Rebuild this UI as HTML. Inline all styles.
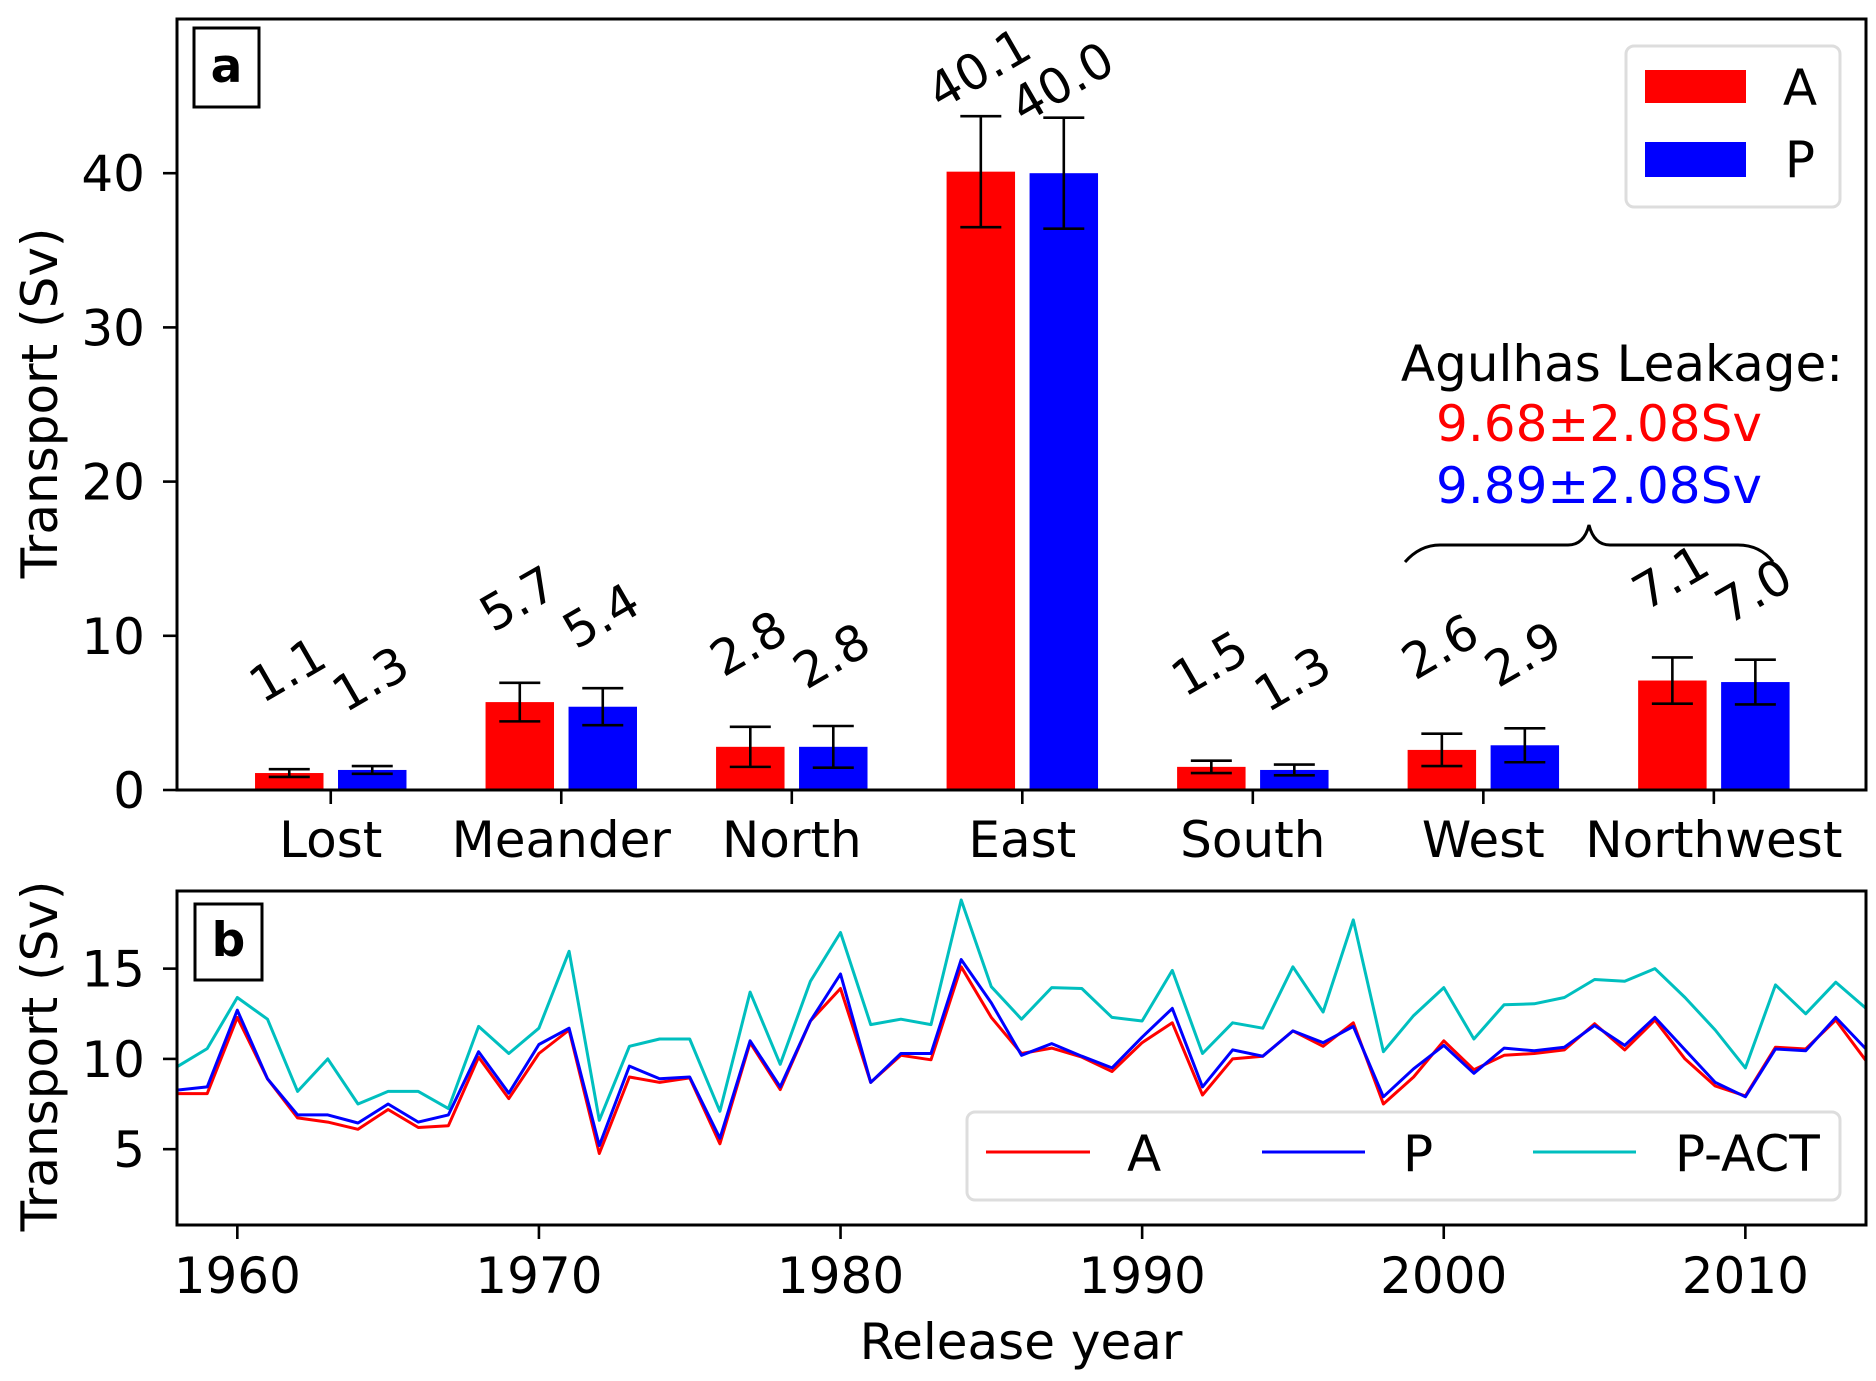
<!DOCTYPE html>
<html><head><meta charset="utf-8"><style>
html,body{margin:0;padding:0;background:#fff}
svg{display:block}
text{font-family:"DejaVu Sans","Liberation Sans",sans-serif}
</style></head><body>
<svg id="fig" width="1876" height="1381" viewBox="0 0 1876 1381" xmlns="http://www.w3.org/2000/svg"></svg>
<script>
// ---------- Panel a data ----------
const categories = ["Lost","Meander","North","East","South","West","Northwest"];
const valuesA = [1.1,5.7,2.8,40.1,1.5,2.6,7.1];
const valuesP = [1.3,5.4,2.8,40.0,1.3,2.9,7.0];
const errA = [0.25,1.25,1.3,3.6,0.4,1.05,1.5];
const errP = [0.25,1.2,1.35,3.6,0.35,1.1,1.45];
const labelsA = ["1.1","5.7","2.8","40.1","1.5","2.6","7.1"];
const labelsP = ["1.3","5.4","2.8","40.0","1.3","2.9","7.0"];
const yTicksA = [0,10,20,30,40];
// ---------- Panel b data ----------
const years = [];
for (let y = 1958; y <= 2014; y++) years.push(y);
const seriesA = [8.08,8.08,12.3,8.9,6.73,6.5,6.1,7.2,6.2,6.3,10.1,7.8,10.3,11.6,4.76,9.0,8.7,8.95,5.3,10.9,8.3,12.1,13.9,8.7,10.2,9.95,15.1,12.3,10.3,
10.6,10.1,9.3,10.9,12.0,8.0,10.0,10.15,11.55,10.7,12.0,7.5,9.0,11.0,9.4,10.2,10.3,10.5,11.95,10.5,12.15,10.0,8.5,7.95,10.65,10.55,12.15,9.9];
const seriesP = [8.27,8.45,12.7,8.9,6.9,6.9,6.45,7.5,6.5,6.9,10.4,8.1,10.8,11.7,5.2,9.6,8.9,9.0,5.6,11.0,8.45,12.1,14.7,8.7,10.3,10.3,15.5,13.1,10.2,
10.85,10.15,9.5,11.2,12.8,8.45,10.5,10.15,11.55,10.9,11.8,7.9,9.45,10.75,9.2,10.6,10.45,10.65,11.85,10.75,12.3,10.5,8.7,7.9,10.55,10.45,12.3,10.55];
const seriesACT = [9.56,10.57,13.4,12.2,8.2,10.0,7.5,8.2,8.2,7.25,11.8,10.3,11.7,15.96,6.6,10.7,11.1,11.1,7.1,13.7,9.7,14.3,17.0,11.9,12.2,11.9,18.8,14.0,12.2,
13.95,13.9,12.3,12.1,14.9,10.3,12.0,11.7,15.1,12.6,17.7,10.4,12.4,13.95,11.1,13.0,13.05,13.4,14.4,14.3,15.0,13.4,11.6,9.5,14.1,12.5,14.25,12.8];
const yTicksB = [5,10,15];
const xTicksB = [1960,1970,1980,1990,2000,2010];

const NS = "http://www.w3.org/2000/svg";
const svg = document.getElementById("fig");
function el(tag, attrs, parent, txt) {
  const e = document.createElementNS(NS, tag);
  for (const k in attrs) e.setAttribute(k, attrs[k]);
  if (txt !== undefined) e.textContent = txt;
  (parent || svg).appendChild(e);
  return e;
}

// ---------- Panel a ----------
const A = {l:177, r:1866, t:19, b:790, x0:-0.667, x1:6.66, y0:0, y1:50};
const xa = v => A.l + (v - A.x0) / (A.x1 - A.x0) * (A.r - A.l);
const ya = v => A.b - (v - A.y0) / (A.y1 - A.y0) * (A.b - A.t);
const gA = el("g", {});


const bw = 0.297, off = 0.18;
categories.forEach((c, i) => {
  [[valuesA, errA, labelsA, "#ff0000", -off, 6.5, "a"], [valuesP, errP, labelsP, "#0000ff", off, 5.7, "p"]].forEach(s => {
    const [vals, errs, labs, col, o, lo, key] = s;
    const cx = xa(i + o);
    const x1 = xa(i + o - bw / 2), x2 = xa(i + o + bw / 2);
    const r = el("rect", {x: x1, y: ya(vals[i]), width: x2 - x1, height: ya(0) - ya(vals[i]), fill: col}, gA);
    
    
    const eg = el("g", {stroke: "#000", "stroke-width": 2.6}, gA);
    
    
    const lo_ = ya(vals[i] - errs[i]), hi_ = ya(vals[i] + errs[i]);
    el("line", {x1: cx, x2: cx, y1: lo_, y2: hi_}, eg);
    el("line", {x1: cx - 20.5, x2: cx + 20.5, y1: lo_, y2: lo_}, eg);
    el("line", {x1: cx - 20.5, x2: cx + 20.5, y1: hi_, y2: hi_}, eg);
    const ly = ya(vals[i] + lo);
    const t = el("text", {x: cx, y: ly, "font-size": 49, "text-anchor": "middle", "dominant-baseline": "middle", transform: `rotate(-30 ${cx} ${ly})`}, gA, labs[i]);
    
    
  });
  const tx = xa(i);
  el("line", {x1: tx, x2: tx, y1: A.b, y2: A.b + 14, stroke: "#000", "stroke-width": 2.6}, gA);
  const tl = el("text", {x: tx, y: 857, "font-size": 50, "text-anchor": "middle"}, gA, c);
  
  
});
yTicksA.forEach(v => {
  el("line", {x1: A.l - 14, x2: A.l, y1: ya(v), y2: ya(v), stroke: "#000", "stroke-width": 2.6}, gA);
  const t = el("text", {x: 145, y: ya(v) + 18, "font-size": 50, "text-anchor": "end"}, gA, String(v));
  
  
});
el("rect", {x: A.l, y: A.t, width: A.r - A.l, height: A.b - A.t, fill: "none", stroke: "#000", "stroke-width": 3}, gA);
</script>
<script>
(function(){
  const svg = document.getElementById("fig");
  svg.insertAdjacentHTML("beforeend", `
  <text x="0" y="0" font-size="50" text-anchor="middle" transform="translate(57 403) rotate(-90)">Transport (Sv)</text>
  <g><rect x="194" y="28" width="65" height="79" fill="#fff" stroke="#000" stroke-width="3"/><text x="226.5" y="82" font-size="47" font-weight="bold" text-anchor="middle">a</text></g>
  <g>
    <rect x="1626" y="46" width="214" height="161" rx="8" fill="#fff" stroke="#ddd" stroke-width="3"/>
    <rect x="1645" y="70" width="101" height="33" fill="#ff0000"/>
    <text x="1800" y="105" font-size="50" text-anchor="middle">A</text>
    <rect x="1645" y="142" width="101" height="35" fill="#0000ff"/>
    <text x="1800" y="177" font-size="50" text-anchor="middle">P</text>
  </g>
  <g font-size="50" text-anchor="middle">
    <text x="1622" y="381">Agulhas Leakage:</text>
    <text x="1599" y="441" fill="#ff0000">9.68±2.08Sv</text>
    <text x="1599" y="503" fill="#0000ff">9.89±2.08Sv</text>
  </g>
  <path d="M1405 562 Q1420 545 1440 545 L1568 545 Q1584 545 1589 525 Q1594 545 1610 545 L1738 545 Q1760 545 1773 562" fill="none" stroke="#000" stroke-width="3"/>
  `);
})();
</script>
<script>
// ---------- Panel b ----------
(function(){
const B = {l:177, r:1866, t:891, b:1225, x0:1958, x1:2014, y0:0.8, y1:19.3};
const xb = v => B.l + (v - B.x0) / (B.x1 - B.x0) * (B.r - B.l);
const yb = v => B.b - (v - B.y0) / (B.y1 - B.y0) * (B.b - B.t);
const gB = el("g", {});


el("clipPath", {id: "clipb"}, gB);
el("rect", {x: B.l, y: B.t, width: B.r - B.l, height: B.b - B.t}, gB.lastChild);
[[seriesACT, "#00bfbf", "line-p-act"], [seriesA, "#ff0000", "line-a"], [seriesP, "#0000ff", "line-p"]].forEach(s => {
  const pts = years.map((y, i) => xb(y).toFixed(1) + "," + yb(s[0][i]).toFixed(1)).join(" ");
  const pl = el("polyline", {points: pts, fill: "none", stroke: s[1], "stroke-width": 3, "stroke-linejoin": "round", "clip-path": "url(#clipb)"}, gB);
  
  
});
yTicksB.forEach(v => {
  el("line", {x1: B.l - 14, x2: B.l, y1: yb(v), y2: yb(v), stroke: "#000", "stroke-width": 2.6}, gB);
  const t = el("text", {x: 145, y: yb(v) + 18, "font-size": 50, "text-anchor": "end"}, gB, String(v));
  
  
});
xTicksB.forEach(v => {
  el("line", {x1: xb(v), x2: xb(v), y1: B.b, y2: B.b + 14, stroke: "#000", "stroke-width": 2.6}, gB);
  const t = el("text", {x: xb(v), y: 1293, "font-size": 50, "text-anchor": "middle"}, gB, String(v));
  
  
});
el("rect", {x: B.l, y: B.t, width: B.r - B.l, height: B.b - B.t, fill: "none", stroke: "#000", "stroke-width": 3}, gB);
svg.insertAdjacentHTML("beforeend", `
  <text x="0" y="0" font-size="50" text-anchor="middle" transform="translate(57 1056) rotate(-90)">Transport (Sv)</text>
  <text x="1021" y="1359" font-size="50" text-anchor="middle">Release year</text>
  <g><rect x="195" y="904" width="67" height="76" fill="#fff" stroke="#000" stroke-width="3"/><text x="228.5" y="956" font-size="47" font-weight="bold" text-anchor="middle">b</text></g>
  <g>
    <rect x="967" y="1112" width="873" height="88" rx="8" fill="#fff" fill-opacity="0.85" stroke="#ddd" stroke-width="3"/>
    <line x1="986" x2="1090" y1="1152" y2="1152" stroke="#ff0000" stroke-width="3"/>
    <text x="1127" y="1171" font-size="50">A</text>
    <line x1="1262" x2="1365" y1="1152" y2="1152" stroke="#0000ff" stroke-width="3"/>
    <text x="1403" y="1171" font-size="50">P</text>
    <line x1="1533" x2="1636" y1="1152" y2="1152" stroke="#00bfbf" stroke-width="3"/>
    <text x="1675" y="1171" font-size="50">P-ACT</text>
  </g>`);
})();
</script>
</body></html>
